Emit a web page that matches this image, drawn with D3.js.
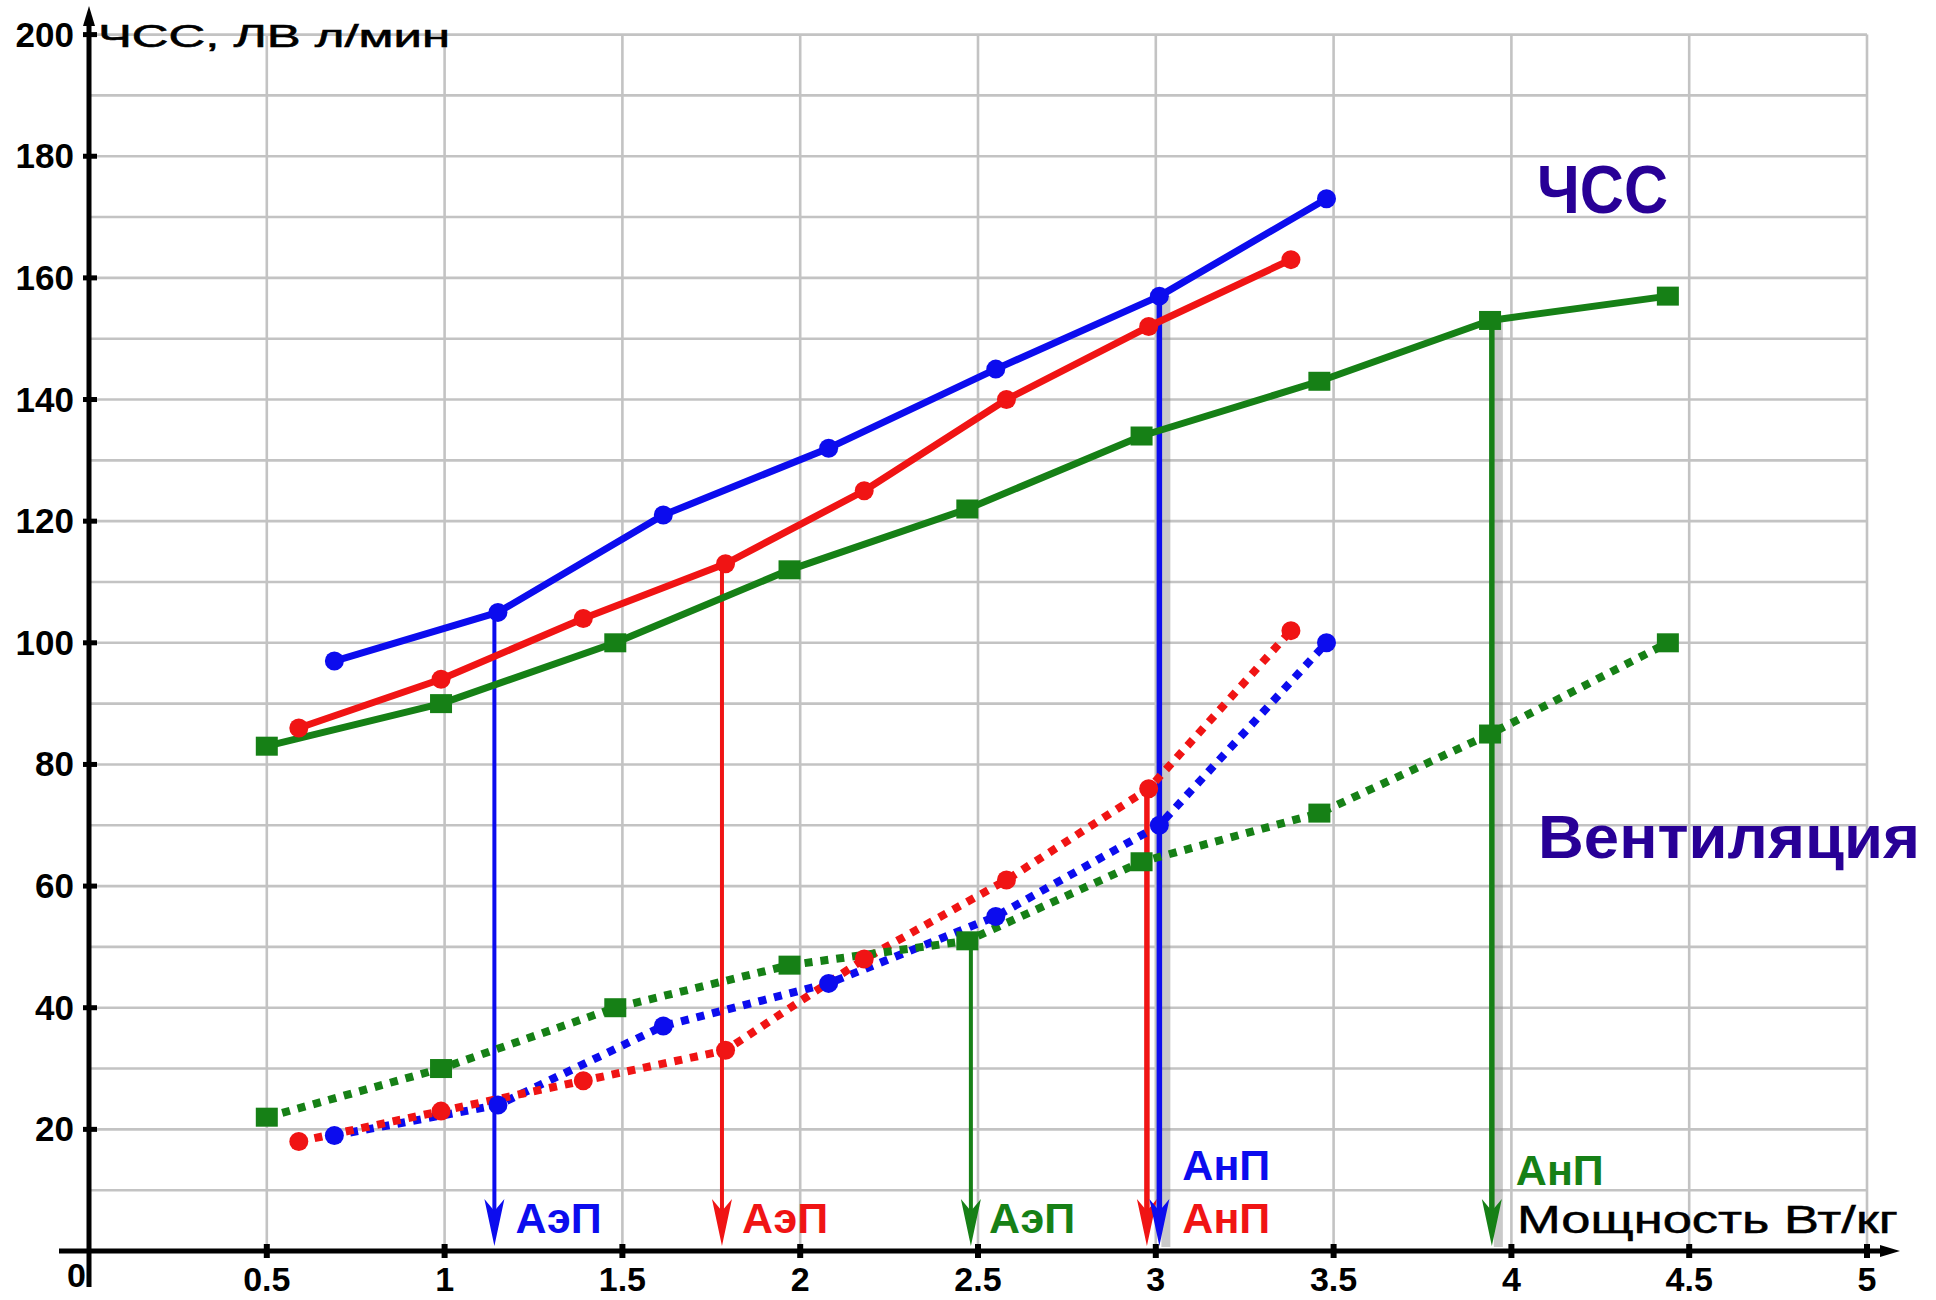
<!DOCTYPE html>
<html><head><meta charset="utf-8">
<script src="https://cdn.jsdelivr.net/npm/d3@7"></script>
<style>html,body{margin:0;padding:0;background:#fff;}svg{display:block;}</style>
</head><body>
<script>
// ---- data ----
const xTicks = [0.5,1,1.5,2,2.5,3,3.5,4,4.5,5];
const xTickLabels = ["0.5","1","1.5","2","2.5","3","3.5","4","4.5","5"];
const yTicks = [20,40,60,80,100,120,140,160,180,200];
const yTickLabels = ["20","40","60","80","100","120","140","160","180","200"];

const blueX = [0.69,1.15,1.615,2.08,2.55,3.01,3.48];
const blueHR = [97,105,121,132,145,157,173];
const blueVent = [19,24,37,44,55,70,100];

const redX = [0.59,0.99,1.39,1.79,2.18,2.58,2.98,3.38];
const redHR = [86,94,104,113,125,140,152,163];
const redVent = [18,23,28,33,48,61,76,102];

const greenX = [0.5,0.99,1.48,1.97,2.47,2.96,3.46,3.94,4.44];
const greenHR = [83,90,100,112,122,134,143,153,157];
const greenVent = [22,30,40,47,51,64,72,85,100];

// thresholds: x position, top value, label, series
const thrX = [1.14, 1.78, 2.48, 2.975, 3.01, 3.945];
const thrTop = [105, 113, 51, 76, 157, 153];
const thrLabel = ["АэП","АэП","АэП","АнП","АнП","АнП"];
const thrSeries = ["blue","red","green","red","blue","green"];

const yTitle = "ЧСС, ЛВ л/мин";
const xTitle = "Мощность Вт/кг";
const hrLabel = "ЧСС";
const ventLabel = "Вентиляция";

// ---- styles ----
const W = 1936, H = 1300;
const col = {blue:"#0c0cee", red:"#f01414", green:"#168016"};
const ink = "#280096";
const font = "Liberation Sans, Arial, sans-serif";
const svg = d3.select("body").append("svg").attr("width",W).attr("height",H);
const x = d3.scaleLinear().domain([0,5]).range([89,1867]);
const y = d3.scaleLinear().domain([0,200]).range([1251,34.6]);

// grid
const g = svg.append("g");
g.selectAll("line.v").data(d3.range(1,11).map(i=>i*0.5)).join("line")
  .attr("x1",d=>x(d)).attr("x2",d=>x(d)).attr("y1",y(200)).attr("y2",y(0))
  .attr("stroke","#c3c3c3").attr("stroke-width",2.6);
g.selectAll("line.h").data(d3.range(1,21).map(i=>i*10)).join("line")
  .attr("x1",x(0)).attr("x2",x(5)).attr("y1",d=>y(d)).attr("y2",d=>y(d))
  .attr("stroke","#c3c3c3").attr("stroke-width",2.6);

// axes
const ax = svg.append("g");
ax.append("line").attr("x1",x(0)).attr("x2",x(0)).attr("y1",18).attr("y2",1287).attr("stroke","#000").attr("stroke-width",5);
ax.append("path").attr("d",`M${x(0)},6 L${x(0)-6},26 L${x(0)+6},26 Z`).attr("fill","#000");
ax.append("line").attr("x1",59).attr("x2",1885).attr("y1",y(0)).attr("y2",y(0)).attr("stroke","#000").attr("stroke-width",5);
ax.append("path").attr("d",`M1900,${y(0)} L1880,${y(0)-6} L1880,${y(0)+6} Z`).attr("fill","#000");
ax.selectAll("rect.xt").data(xTicks).join("rect")
  .attr("x",d=>x(d)-3).attr("y",y(0)-7).attr("width",6).attr("height",14).attr("fill","#000");
ax.selectAll("rect.yt").data(yTicks).join("rect")
  .attr("x",x(0)-6).attr("y",d=>y(d)-2.5).attr("width",14).attr("height",5).attr("fill","#000");
ax.selectAll("text.xl").data(xTicks).join("text")
  .attr("x",d=>x(d)).attr("y",1291).attr("text-anchor","middle")
  .attr("font-family",font).attr("font-weight","bold").attr("font-size",34)
  .text((d,i)=>xTickLabels[i]);
ax.selectAll("text.yl").data(yTicks).join("text")
  .attr("x",74).attr("y",d=>y(d)+12).attr("text-anchor","end")
  .attr("font-family",font).attr("font-weight","bold").attr("font-size",35)
  .text((d,i)=>yTickLabels[i]);
ax.append("text").attr("x",86).attr("y",1287).attr("text-anchor","end")
  .attr("font-family",font).attr("font-weight","bold").attr("font-size",34).text("0");

// titles
svg.append("text").attr("x",98).attr("y",47).attr("font-family",font).attr("font-size",32)
  .attr("stroke","#000").attr("stroke-width",0.6)
  .attr("textLength",352).attr("lengthAdjust","spacingAndGlyphs").text(yTitle);
svg.append("text").attr("x",1517).attr("y",1233).attr("font-family",font).attr("font-size",39)
  .attr("stroke","#000").attr("stroke-width",0.5)
  .attr("textLength",381).attr("lengthAdjust","spacingAndGlyphs").text(xTitle);
svg.append("text").attr("x",1537).attr("y",213).attr("font-family",font).attr("font-weight","bold").attr("font-size",68)
  .attr("fill",ink).attr("textLength",131).attr("lengthAdjust","spacingAndGlyphs").text(hrLabel);
svg.append("text").attr("x",1538).attr("y",858).attr("font-family",font).attr("font-weight","bold").attr("font-size",62)
  .attr("fill",ink).attr("textLength",382).attr("lengthAdjust","spacingAndGlyphs").text(ventLabel);

// threshold arrows (under the series lines)
const thr = thrX.map((v,i)=>({x:v, top:thrTop[i], label:thrLabel[i], s:thrSeries[i]}));
const ag = svg.append("g");
thr.forEach((d,i)=>{
  const px = x(d.x), c = col[d.s];
  const thick = d.label==="АнП";
  if (thick && d.s!=="red") {
    ag.append("rect").attr("x",px+2).attr("y",y(d.top)).attr("width",9).attr("height",y(0)-y(d.top)-4)
      .attr("fill","#8a8a8a").attr("opacity",0.45);
  }
  ag.append("line").attr("x1",px).attr("x2",px).attr("y1",y(d.top)).attr("y2",y(0)-40)
    .attr("stroke",c).attr("stroke-width",thick?5.5:4);
  ag.append("path").attr("d",`M${px},${y(0)-5} L${px-10},${y(0)-52} L${px},${y(0)-40} L${px+10},${y(0)-52} Z`).attr("fill",c);
});
// threshold labels
const lab = [
  {i:0, dx:21, yy:1233},
  {i:1, dx:20, yy:1233},
  {i:2, dx:18, yy:1233},
  {i:3, dx:null, yy:1233},
  {i:4, dx:23, yy:1180},
  {i:5, dx:24, yy:1185}
];
lab.forEach(l=>{
  const d = thr[l.i];
  const px = l.dx===null ? x(thr[4].x)+23 : x(d.x)+l.dx;
  svg.append("text").attr("x",px).attr("y",l.yy).attr("font-family",font).attr("font-weight","bold")
    .attr("font-size",43).attr("fill",col[d.s]).text(d.label);
});

// series
const series = [
  {c:"blue", xs:blueX, hr:blueHR, v:blueVent, m:"circle"},
  {c:"red", xs:redX, hr:redHR, v:redVent, m:"circle"},
  {c:"green", xs:greenX, hr:greenHR, v:greenVent, m:"square"}
];
const line = d3.line().x(d=>x(d[0])).y(d=>y(d[1]));
series.forEach(s=>{
  const pv = s.xs.map((v,i)=>[v,s.v[i]]);
  svg.append("path").attr("d",line(pv)).attr("fill","none").attr("stroke",col[s.c])
    .attr("stroke-width",8).attr("stroke-dasharray","8,8");
});
series.forEach(s=>{
  const ph = s.xs.map((v,i)=>[v,s.hr[i]]);
  svg.append("path").attr("d",line(ph)).attr("fill","none").attr("stroke",col[s.c])
    .attr("stroke-width",7).attr("stroke-linejoin","round");
});
series.forEach(s=>{
  const pts = s.xs.map((v,i)=>[v,s.hr[i]]).concat(s.xs.map((v,i)=>[v,s.v[i]]));
  if (s.m==="circle") {
    svg.append("g").selectAll("circle").data(pts).join("circle")
      .attr("cx",d=>x(d[0])).attr("cy",d=>y(d[1])).attr("r",9.5).attr("fill",col[s.c]);
  } else {
    svg.append("g").selectAll("rect").data(pts).join("rect")
      .attr("x",d=>x(d[0])-11).attr("y",d=>y(d[1])-9.5).attr("width",22).attr("height",19).attr("fill",col[s.c]);
  }
});
</script>
</body></html>
